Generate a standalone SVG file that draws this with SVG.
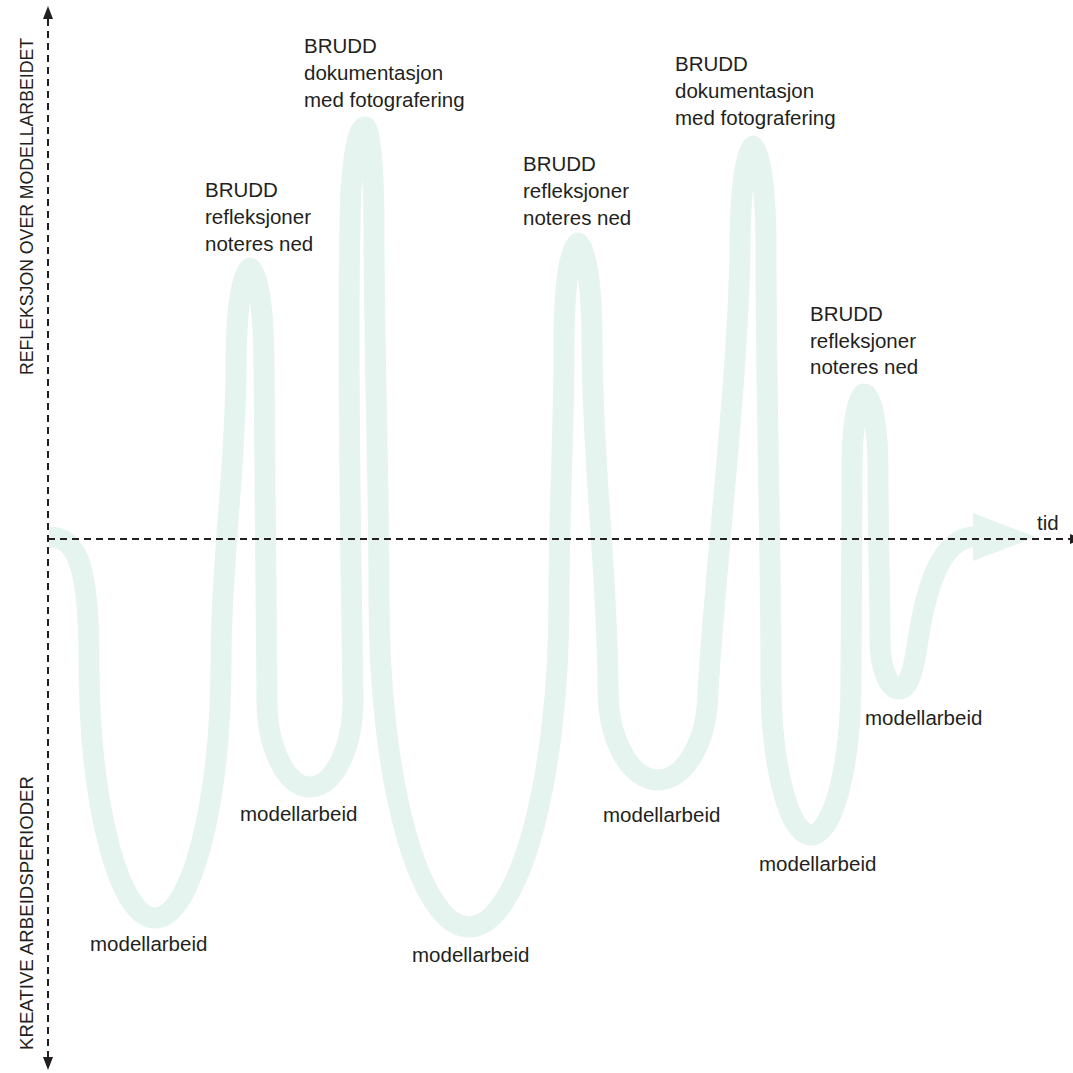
<svg xmlns="http://www.w3.org/2000/svg" width="1073" height="1073" viewBox="0 0 1073 1073">
<defs>
<style>
.lbl{font-family:"Liberation Sans",Arial,sans-serif;font-size:20.5px;fill:#231f20}
.ax{font-family:"Liberation Sans",Arial,sans-serif;font-size:17.5px;fill:#231f20}
.axis{stroke:#231f20;stroke-width:2;stroke-dasharray:7 5;fill:none}
.head{fill:#231f20}
.ribbon{fill:none;stroke:#e6f4f0;stroke-width:21;stroke-linejoin:round;stroke-linecap:butt}
</style>
</defs>
<rect width="1073" height="1073" fill="#ffffff"/>
<g id="flow">
<path class="ribbon" d="M49,537 C75,537 89,560 89,660
C89,802.5 118.5,918 155,918 C191.5,918 221,802.5 221,660
C221,560 236,468 236,368
C236,312.8 242.3,268 250,268 C257.7,268 264,312.8 264,368
C264,480 267,590 267,700
C267,748 286.3,787 310,787 C333.7,787 353,748 353,700
C351,560 347,360 350,227
C350,171.8 356.7,127 365,127 C370,127 374,171.8 374,227
C374,350 379,480 379,600
C379,780.6 419.3,927 469,927 C518.7,927 559,780.6 559,600
C559,500 564,440 564,343
C564,287.8 570.3,243 578,243 C585.7,243 592,287.8 592,343
C592,460 608,580 608,690
C608,739.7 630.4,780 658,780 C685.6,780 708,739.7 708,690
C716,560 738,380 740,250
C740,192.6 745.8,146 753,146 C760.2,146 766,192.6 766,250
C766,400 771,550 771,680
C771,765.6 788.9,835 811,835 C833.1,835 851,765.6 851,680
C851,600 852,540 852,470
C852,428 857.4,394 864,394 C871.7,394 878,428 878,470
C878,540 880,590 880,640
C880,667 888.5,689 899,689 C909,689 914,668 918,640
C926,590 940,537 975,537"/>
<polygon points="973,513 1036,537 973,561" fill="#e6f4f0"/>
</g>
<g id="axes">
<line class="axis" x1="48" y1="19" x2="48" y2="1057"/>
<polygon class="head" points="48,6 53,19 43,19"/>
<polygon class="head" points="48,1070 53,1057 43,1057"/>
<line class="axis" x1="48" y1="539" x2="1070" y2="539"/>
<polygon class="head" points="1083,539 1070,544 1070,534"/>
</g>
<g id="axis-y-top"><text class="ax" transform="translate(33,375) rotate(-90)" textLength="337" lengthAdjust="spacingAndGlyphs">REFLEKSJON OVER MODELLARBEIDET</text></g>
<g id="axis-y-bottom"><text class="ax" transform="translate(33,1050) rotate(-90)" textLength="274" lengthAdjust="spacingAndGlyphs">KREATIVE ARBEIDSPERIODER</text></g>
<g id="axis-x"><text class="lbl" x="1037" y="530">tid</text></g>
<g id="brudd1"><text class="lbl"><tspan x="205" y="197">BRUDD</tspan><tspan x="205" y="224">refleksjoner</tspan><tspan x="205" y="251">noteres ned</tspan></text></g>
<g id="brudd2"><text class="lbl"><tspan x="304" y="53">BRUDD</tspan><tspan x="304" y="80">dokumentasjon</tspan><tspan x="304" y="107">med fotografering</tspan></text></g>
<g id="brudd3"><text class="lbl"><tspan x="523" y="171">BRUDD</tspan><tspan x="523" y="198">refleksjoner</tspan><tspan x="523" y="225">noteres ned</tspan></text></g>
<g id="brudd4"><text class="lbl"><tspan x="675" y="71">BRUDD</tspan><tspan x="675" y="98">dokumentasjon</tspan><tspan x="675" y="125">med fotografering</tspan></text></g>
<g id="brudd5"><text class="lbl"><tspan x="810" y="321">BRUDD</tspan><tspan x="810" y="348">refleksjoner</tspan><tspan x="810" y="374">noteres ned</tspan></text></g>
<g id="modell1"><text class="lbl" x="90" y="951">modellarbeid</text></g>
<g id="modell2"><text class="lbl" x="240" y="821">modellarbeid</text></g>
<g id="modell3"><text class="lbl" x="412" y="962">modellarbeid</text></g>
<g id="modell4"><text class="lbl" x="603" y="822">modellarbeid</text></g>
<g id="modell5"><text class="lbl" x="759" y="871">modellarbeid</text></g>
<g id="modell6"><text class="lbl" x="865" y="725">modellarbeid</text></g>
</svg>
